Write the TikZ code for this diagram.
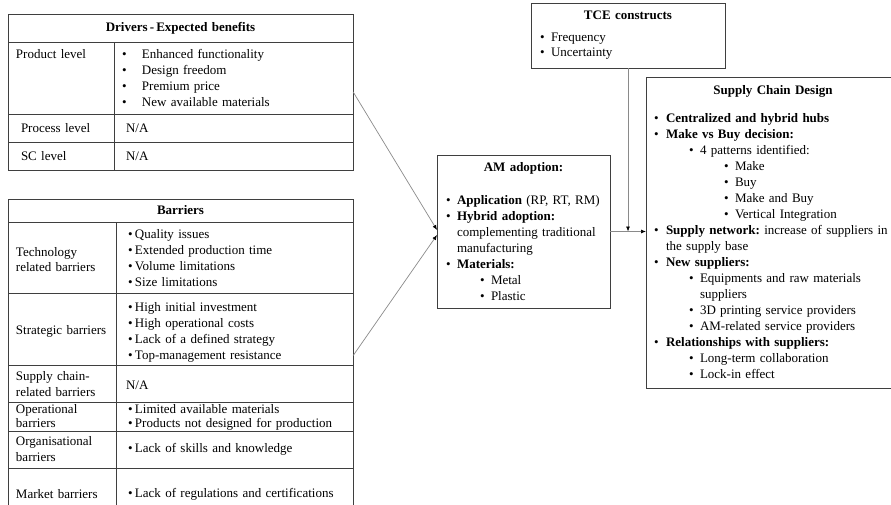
\documentclass[tikz,border=0pt]{standalone}
\usepackage{fontspec}
\setmainfont{Liberation Serif}
\usepackage{tikz}
\usetikzlibrary{positioning, arrows.meta, fit}
\definecolor{frame}{HTML}{3F3F3F}
\definecolor{linkgray}{HTML}{8A8A8A}
\newcommand{\tabfont}{\fontsize{13}{16}\selectfont\frenchspacing}
% bullet line: [indent]{hang}{text}
\newcommand{\bitem}[3][0pt]{\noindent\hspace*{#1}\makebox[#2][l]{\textbullet}#3\hangindent=\dimexpr#1+#2\relax\hangafter=1\par}
\tikzset{
    cell/.style={draw=frame, line width=0.8pt, outer sep=0pt, inner ysep=0pt, inner xsep=8pt, align=left, font=\tabfont},
    headcell/.style={cell, align=center, font=\tabfont\bfseries},
    box/.style={draw=frame, line width=0.8pt, outer sep=0pt, inner ysep=0pt, inner xsep=9pt, align=left, font=\tabfont, anchor=north west},
    link/.style={draw=linkgray, line width=0.7pt},
    arrow/.style={link, -{Latex[length=5pt, width=4pt, color=black]}}
}
\begin{document}
\begin{tikzpicture}[x=1pt, y=-1pt]
    \useasboundingbox (0,0) rectangle (891,504);

    % Drivers table
    \node[headcell, anchor=north west, text width=329pt, minimum height=28pt] (drvHead) at (8,14) {Drivers\,-\,Expected benefits};
    \node[cell, text width=90pt, minimum height=72pt, below right=0pt and 0pt of drvHead.south west] (drvProdL) {Product level\\\mbox{}\\\mbox{}\\\mbox{}};
    \node[cell, text width=223pt, minimum height=72pt, right=0pt of drvProdL] (drvProdV) {%
        \bitem{20pt}{Enhanced functionality}
        \bitem{20pt}{Design freedom}
        \bitem{20pt}{Premium price}
        \bitem{20pt}{New available materials}};
    \node[cell, inner xsep=13pt, text width=80pt, minimum height=28pt, below=0pt of drvProdL] (drvProcL) {Process level};
    \node[cell, inner xsep=12pt, text width=215pt, minimum height=28pt, right=0pt of drvProcL] (drvProcV) {N/A};
    \node[cell, inner xsep=13pt, text width=80pt, minimum height=28pt, below=0pt of drvProcL] (drvScL) {SC level};
    \node[cell, inner xsep=12pt, text width=215pt, minimum height=28pt, right=0pt of drvScL] (drvScV) {N/A};
    \node[fit=(drvHead)(drvScV), inner sep=0pt] (drivers) {};

    % Barriers table
    \node[headcell, anchor=north west, text width=329pt, minimum height=23pt] (barHead) at (8,199) {Barriers};
    \node[cell, text width=92pt, text height=34pt, text depth=37pt, below right=0pt and 0pt of barHead.south west, font=\fontsize{13}{15}\selectfont] (barTechL) {Technology\\related barriers};
    \node[cell, inner xsep=12pt, text width=213pt, text height=16pt, text depth=55pt, right=0pt of barTechL] (barTechV) {%
        \bitem{7pt}{Quality issues}
        \bitem{7pt}{Extended production time}
        \bitem{7pt}{Volume limitations}
        \bitem{7pt}{Size limitations}};
    \node[cell, text width=92pt, text height=41pt, text depth=31pt, below=0pt of barTechL] (barStratL) {Strategic barriers};
    \node[cell, inner xsep=12pt, text width=213pt, text height=18pt, text depth=54pt, right=0pt of barStratL] (barStratV) {%
        \bitem{7pt}{High initial investment}
        \bitem{7pt}{High operational costs}
        \bitem{7pt}{Lack of a defined strategy}
        \bitem{7pt}{Top-management resistance}};
    \node[cell, text width=92pt, text height=15pt, text depth=22pt, below=0pt of barStratL] (barSuppL) {Supply chain-\\related barriers};
    \node[cell, inner xsep=10pt, text width=217pt, text height=24pt, text depth=13pt, right=0pt of barSuppL] (barSuppV) {N/A};
    \node[cell, text width=92pt, text height=11.5pt, text depth=17.5pt, below=0pt of barSuppL, font=\fontsize{13}{14}\selectfont] (barOperL) {Operational\\barriers};
    \node[cell, inner xsep=12pt, text width=213pt, text height=11.5pt, text depth=17.5pt, right=0pt of barOperL, font=\fontsize{13}{14}\selectfont] (barOperV) {%
        \bitem{7pt}{Limited available materials}
        \bitem{7pt}{Products not designed for production}};
    \node[cell, text width=92pt, minimum height=37pt, below=0pt of barOperL] (barOrgL) {Organisational\\barriers};
    \node[cell, inner xsep=12pt, text width=213pt, minimum height=37pt, right=0pt of barOrgL] (barOrgV) {%
        \bitem{7pt}{Lack of skills and knowledge}};
    \node[cell, text width=92pt, minimum height=52pt, below=0pt of barOrgL] (barMktL) {Market barriers};
    \node[cell, inner xsep=12pt, text width=213pt, minimum height=52pt, right=0pt of barMktL] (barMktV) {%
        \bitem{7pt}{Lack of regulations and certifications}};
    \node[fit=(barHead)(barMktV), inner sep=0pt] (barriers) {};

    % AM adoption
    \node[box, text width=155pt, minimum height=153pt] (am) at (437,155) {%
        {\centering\bfseries AM adoption:\par}
        \vspace{17pt}
        \bitem{11pt}{\textbf{Application} (RP, RT, RM)}
        \bitem{11pt}{\textbf{Hybrid adoption:}\newline complementing traditional\newline manufacturing}
        \bitem{11pt}{\textbf{Materials:}}
        \bitem[34pt]{11pt}{Metal}
        \bitem[34pt]{11pt}{Plastic}};

    % TCE constructs
    \node[box, text width=176pt, minimum height=65pt, font=\fontsize{13}{15}\selectfont] (tce) at (531,3) {%
        {\centering\bfseries TCE constructs\par}
        \vspace{7pt}
        \bitem{11pt}{Frequency}
        \bitem{11pt}{Uncertainty}};

    % Supply Chain Design
    \node[box, inner xsep=8pt, text width=238pt, minimum height=311pt] (sc) at (646,77) {%
        {\centering\bfseries Supply Chain Design\par}
        \vspace{12pt}
        \bitem{12pt}{\textbf{Centralized and hybrid hubs}}
        \bitem{12pt}{\textbf{Make vs Buy decision:}}
        \bitem[35pt]{11pt}{4 patterns identified:}
        \bitem[70pt]{11pt}{Make}
        \bitem[70pt]{11pt}{Buy}
        \bitem[70pt]{11pt}{Make and Buy}
        \bitem[70pt]{11pt}{Vertical Integration}
        \bitem{12pt}{\textbf{Supply network:} increase of suppliers in\newline the supply base}
        \bitem{12pt}{\textbf{New suppliers:}}
        \bitem[35pt]{11pt}{Equipments and raw materials\newline suppliers}
        \bitem[35pt]{11pt}{3D printing service providers}
        \bitem[35pt]{11pt}{AM-related service providers}
        \bitem{12pt}{\textbf{Relationships with suppliers:}}
        \bitem[35pt]{11pt}{Long-term collaboration}
        \bitem[35pt]{11pt}{Lock-in effect}};

    % Connections
    \draw[arrow] (drivers.east) -- ([yshift=1.5pt]am.west);
    \draw[arrow] ([yshift=4pt]barriers.east) -- ([yshift=-3.5pt]am.west);
    \draw[arrow] (tce.south) -- (tce.south |- am.east);
    \draw[arrow] (am.east) -- (am.east -| sc.west);
\end{tikzpicture}
\end{document}
